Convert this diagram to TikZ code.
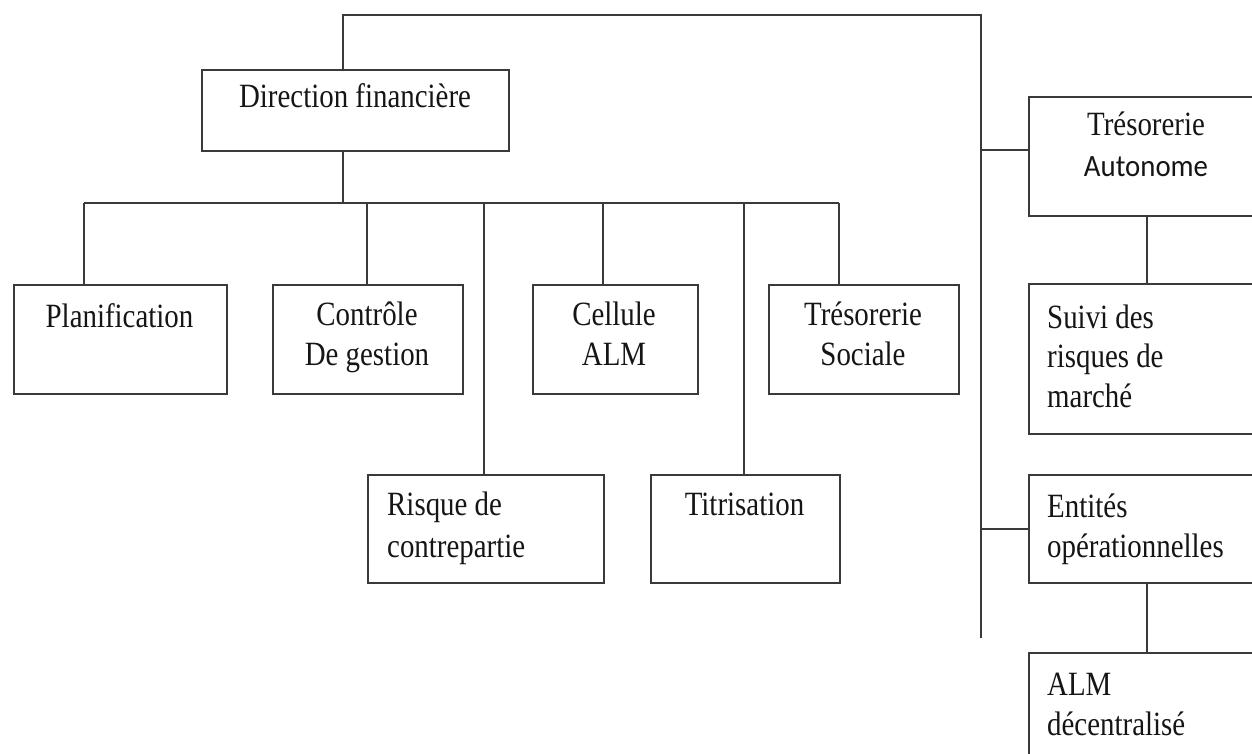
\documentclass[tikz,border=0pt]{standalone}
\usepackage{fontspec}
\setmainfont{Liberation Serif}[FakeStretch=0.85]
\newfontfamily\calfont{Carlito}[FakeStretch=0.93]
\definecolor{linec}{HTML}{3A3A3A}
\definecolor{textc}{HTML}{151515}
\newcommand\CLines[2][40pt]{\vtop{\baselineskip=#1\lineskiplimit=-100pt\halign{\hfil##\hfil\cr#2\crcr}}}
\newcommand\LLines[2][40pt]{\vtop{\baselineskip=#1\lineskiplimit=-100pt\halign{##\hfil\cr#2\crcr}}}
\begin{document}
\begin{tikzpicture}[x=1pt,y=-1pt,
  every node/.style={font=\fontsize{34pt}{40pt}\selectfont, text=textc},
  orgbox/.style={draw=linec, line width=1.8pt, inner sep=0pt, anchor=north west},
  lbl/.style={inner sep=0pt, anchor=base},
  lbll/.style={inner sep=0pt, anchor=base west},
  conn/.style={draw=linec, line width=1.8pt}]
\useasboundingbox (0,0) rectangle (1252,754);
\clip (0,0) rectangle (1252,754);
% boxes
\node[orgbox, minimum width=307pt, minimum height=81pt] (dir) at (201,69) {};
\node[orgbox, minimum width=213pt, minimum height=109pt] (plan) at (13,284) {};
\node[orgbox, minimum width=190pt, minimum height=109pt] (ctrl) at (272,284) {};
\node[orgbox, minimum width=165pt, minimum height=109pt] (cell) at (532,284) {};
\node[orgbox, minimum width=190pt, minimum height=109pt] (tsoc) at (768,284) {};
\node[orgbox, minimum width=236pt, minimum height=108pt] (risq) at (367,474) {};
\node[orgbox, minimum width=189pt, minimum height=108pt] (titr) at (650,474) {};
\node[orgbox, minimum width=236pt, minimum height=119pt] (taut) at (1028,96) {};
\node[orgbox, minimum width=236pt, minimum height=150pt] (suivi) at (1028,283) {};
\node[orgbox, minimum width=236pt, minimum height=108pt] (ent) at (1028,474) {};
\node[orgbox, minimum width=236pt, minimum height=118pt] (almd) at (1028,652) {};
% labels
\node[lbl] (tdir) at (355,108) {Direction financière};
\node[lbl] (tplan) at (119.5,327) {Planification};
\node[lbl] (tctrl) at (367,325) {\CLines{Contrôle\cr De gestion}};
\node[lbl] (tcell) at (614,325) {\CLines{Cellule\cr ALM}};
\node[lbl] (ttsoc) at (863,325) {\CLines{Trésorerie\cr Sociale}};
\node[lbll] (trisq) at (387,515) {\LLines[42pt]{Risque de\cr contrepartie}};
\node[lbl] (ttitr) at (744.5,515) {Titrisation};
\node[lbl] (ttaut) at (1146,136) {\CLines[41pt]{Trésorerie\cr {\calfont\fontsize{31pt}{40pt}\selectfont Autonome}}};
\node[lbll] (tsuivi) at (1047,328) {\LLines[39.5pt]{Suivi des\cr risques de\cr marché}};
\node[lbll] (tent) at (1047,517) {\LLines{Entités\cr opérationnelles}};
\node[lbll] (talmd) at (1047,695) {\LLines{ALM\cr décentralisé}};
% trunk
\coordinate (tl) at (343,15);
\coordinate (tr) at (981,15);
\coordinate (vend) at (981,638);
\coordinate (j1) at (981,150);
\coordinate (bus) at (343,203);
\coordinate (busl) at (84,203);
\coordinate (busr) at (839,203);
\coordinate (dplan) at (84,203);
\coordinate (dctrl) at (367,203);
\coordinate (drisq) at (484,203);
\coordinate (dcell) at (603,203);
\coordinate (dtitr) at (744,203);
\coordinate (dtsoc) at (839,203);
\draw[conn] (tl |- dir.north) -- (tl) -- (tr) -- (vend);
\draw[conn] (j1) -- (j1 -| taut.west);
\draw[conn] (vend |- ent.west) -- (ent.west);
\draw[conn] (taut.south) -- (suivi.north);
\draw[conn] (ent.south) -- (almd.north);
\draw[conn] (bus |- dir.south) -- (bus);
\draw[conn] (busl) -- (busr);
\draw[conn] (dplan) -- (dplan |- plan.north);
\draw[conn] (dctrl) -- (dctrl |- ctrl.north);
\draw[conn] (drisq) -- (drisq |- risq.north);
\draw[conn] (dcell) -- (dcell |- cell.north);
\draw[conn] (dtitr) -- (dtitr |- titr.north);
\draw[conn] (dtsoc) -- (dtsoc |- tsoc.north);
\end{tikzpicture}
\end{document}
